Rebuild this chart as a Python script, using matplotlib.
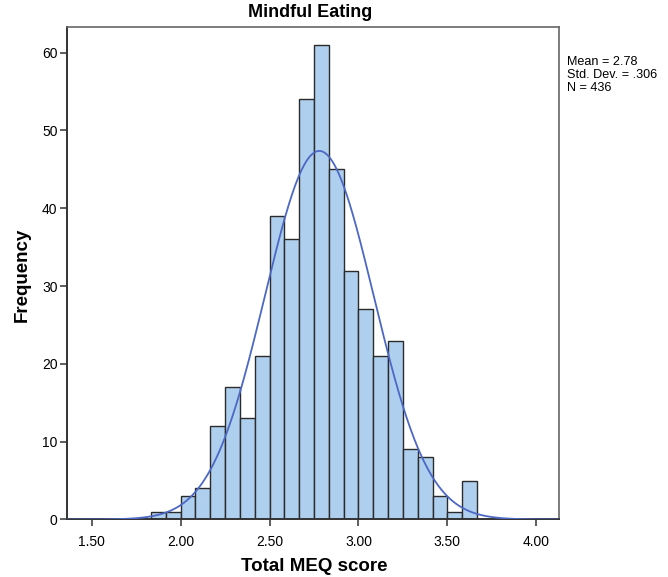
import numpy as np
import matplotlib
matplotlib.use('Agg')
import matplotlib.pyplot as plt

plt.rcParams['font.family'] = ['Liberation Sans', 'DejaVu Sans']

# histogram of total MEQ score, bin width 1/12
bin_start = 22 / 12
bin_width = 1 / 12
counts = [1, 1, 3, 4, 12, 17, 13, 21, 39, 36, 54, 61, 45, 32, 27, 21, 23, 9, 8, 3, 1, 5]
mean = 2.78
sd = 0.306
n = 436

x_ticks = [1.5, 2.0, 2.5, 3.0, 3.5, 4.0]
x_tick_labels = ['1.50', '2.00', '2.50', '3.00', '3.50', '4.00']
y_ticks = [0, 10, 20, 30, 40, 50, 60]

fig = plt.figure(figsize=(6.68, 5.77), dpi=100)
ax = fig.add_axes([0.1007, 0.0997, 0.7368, 0.853])

lefts = bin_start + bin_width * np.arange(len(counts))
ax.bar(lefts, counts, width=bin_width, align='edge', color='#aecfee',
       edgecolor='#2b2b2b', linewidth=1.0, zorder=2)

xmin, xmax = 1.363, 4.13
xs = np.linspace(xmin, xmax, 500)
ys = n * bin_width * np.exp(-0.5 * ((xs - mean) / sd) ** 2) / (sd * np.sqrt(2 * np.pi))
ax.plot(xs, ys, color='#4d68c4', linewidth=1.3, zorder=3)

ax.set_xlim(xmin, xmax)
ax.set_ylim(0, 63.26)
ax.set_xticks(x_ticks)
ax.set_xticklabels(x_tick_labels)
ax.set_yticks(y_ticks)
ax.tick_params(axis='both', direction='out', length=5, width=1.1, color='#333333',
               labelsize=10, pad=2)
ax.tick_params(axis='x', pad=6)

for side in ['left', 'bottom']:
    ax.spines[side].set_color('#333333')
    ax.spines[side].set_linewidth(1.4)
for side in ['top', 'right']:
    ax.spines[side].set_color('#666666')
    ax.spines[side].set_linewidth(1.2)

fig.text(0.4645, 0.979, 'Mindful Eating', ha='center', va='center',
         fontsize=13, fontweight='bold')
fig.text(0.47, 0.019, 'Total MEQ score', ha='center', va='center',
         fontsize=13.5, fontweight='bold')
fig.text(0.033, 0.523, 'Frequency', ha='center', va='center', rotation=90,
         fontsize=13.5, fontweight='bold')

stats = ['Mean = 2.78', 'Std. Dev. = .306', 'N = 436']
for i, s in enumerate(stats):
    fig.text(0.849, 1 - (62 + 13 * i) / 577, s, ha='left', va='center', fontsize=9.1)

fig.savefig('out.png', dpi=100)
